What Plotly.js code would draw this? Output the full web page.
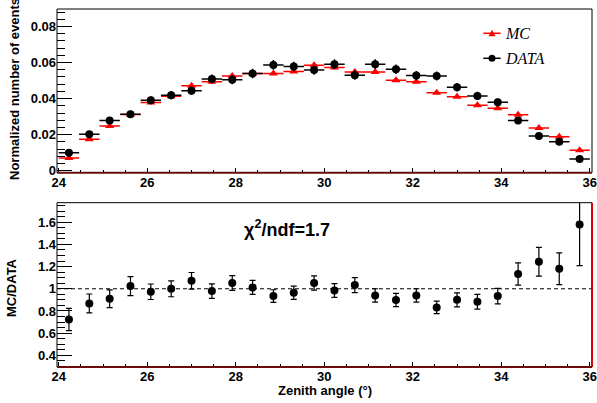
<!DOCTYPE html>
<html>
<head>
<meta charset="utf-8">
<script src="https://cdn.plot.ly/plotly-3.0.1.min.js"></script>
<style>html,body{margin:0;padding:0;background:#fff;}</style>
</head>
<body>
<div id="chart" style="width:597px;height:403px;"></div>
<script>
// ---- data ----
const binCenters = [24.23,24.69,25.15,25.62,26.08,26.54,27.00,27.46,27.92,28.38,28.85,29.31,29.77,30.23,30.69,31.15,31.62,32.08,32.54,33.00,33.46,33.92,34.38,34.85,35.31,35.77];
const binHalfWidth = 0.2308;
const mcValues = [0.0071,0.0174,0.0248,0.0312,0.0378,0.0413,0.0472,0.0494,0.0526,0.0539,0.0539,0.0550,0.0585,0.0572,0.0548,0.0548,0.0502,0.0493,0.0433,0.0411,0.0363,0.0347,0.0311,0.0237,0.0189,0.0113];
const dataValues = [0.0100,0.0202,0.0278,0.0313,0.0391,0.0419,0.0444,0.0509,0.0504,0.0539,0.0587,0.0578,0.0559,0.0591,0.0530,0.0591,0.0563,0.0528,0.0526,0.0463,0.0415,0.0380,0.0278,0.0193,0.0161,0.0065];
const dataErrors = [0.0012,0.0016,0.0019,0.0020,0.0022,0.0023,0.0024,0.0025,0.0025,0.0026,0.0027,0.0027,0.0026,0.0027,0.0026,0.0027,0.0026,0.0025,0.0025,0.0024,0.0023,0.0022,0.0019,0.0016,0.0015,0.0010];
const ratioValues = [0.723,0.868,0.910,1.024,0.973,1.000,1.072,0.979,1.052,1.012,0.934,0.964,1.052,0.985,1.033,0.940,0.898,0.940,0.832,0.900,0.883,0.934,1.133,1.244,1.181,1.579];
const ratioErrors = [0.100,0.085,0.080,0.085,0.070,0.072,0.075,0.065,0.067,0.063,0.057,0.060,0.065,0.062,0.068,0.060,0.060,0.060,0.057,0.063,0.067,0.070,0.100,0.130,0.143,0.370];
const xTickVals = [24,26,28,30,32,34,36];
const xTickText = ['24','26','28','30','32','34','36'];
const yTopTickVals = [0,0.02,0.04,0.06,0.08];
const yTopTickText = ['0','0.02','0.04','0.06','0.08'];
const yBotTickVals = [0.4,0.6,0.8,1,1.2,1.4,1.6];
const yBotTickText = ['0.4','0.6','0.8','1','1.2','1.4','1.6'];
const refLine = 1;
const chiText = 'χ<sup>2</sup>/ndf=1.7';

// ---- styles ----
const FONT = 'Liberation Sans, Arial, sans-serif';
const tickFont = {family: FONT, size: 13, color: '#000', weight: 'bold'};
const xRange = [23.96, 36.05];

function xAxis(anchor) {
  return {
    anchor: anchor, domain: [0, 1], range: xRange,
    tickmode: 'array', tickvals: xTickVals, ticktext: xTickText,
    ticks: 'inside', ticklen: 5, tickwidth: 1, tickcolor: '#000',
    minor: {tickmode: 'linear', tick0: 24, dtick: 0.5, ticks: 'inside', ticklen: 3, tickwidth: 1, tickcolor: '#000', showgrid: false},
    showgrid: false, zeroline: false, showline: false,
    ticklabeloverflow: 'allow',
    tickfont: tickFont
  };
}

const traces = [
  {
    x: binCenters, y: mcValues, xaxis: 'x', yaxis: 'y', type: 'scatter', mode: 'markers',
    marker: {symbol: 'triangle-up', size: 8, color: '#ff0000'},
    error_x: {type: 'constant', value: binHalfWidth, color: '#ff0000', thickness: 1.5, width: 0},
    hoverinfo: 'skip'
  },
  {
    x: binCenters, y: dataValues, xaxis: 'x', yaxis: 'y', type: 'scatter', mode: 'markers',
    marker: {symbol: 'circle', size: 8, color: '#000'},
    error_x: {type: 'constant', value: binHalfWidth, color: '#000', thickness: 1.5, width: 0},
    error_y: {type: 'data', array: dataErrors, color: '#000', thickness: 1.5, width: 0},
    hoverinfo: 'skip'
  },
  {
    x: binCenters, y: ratioValues, xaxis: 'x2', yaxis: 'y2', type: 'scatter', mode: 'markers',
    marker: {symbol: 'circle', size: 8, color: '#000'},
    error_y: {type: 'data', array: ratioErrors, color: '#000', thickness: 1.2, width: 3},
    hoverinfo: 'skip'
  }
];

function border(xr, yr, x0, y0, x1, y1, color, w) {
  return {type: 'line', xref: xr, yref: yr, x0: x0, y0: y0, x1: x1, y1: y1, line: {color: color, width: w}, layer: 'above'};
}

const legX = 0.8131, legYmc = 0.9321, legYdata = 0.8623;

const layout = {
  width: 597, height: 403,
  margin: {l: 57, r: 5, t: 9, b: 36, pad: 0},
  paper_bgcolor: '#fff', plot_bgcolor: '#fff',
  showlegend: false,
  xaxis: xAxis('y'),
  xaxis2: xAxis('y2'),
  yaxis: {
    anchor: 'x', domain: [0.5427, 1], range: [-0.0011, 0.0897],
    tickmode: 'array', tickvals: yTopTickVals, ticktext: yTopTickText,
    ticks: 'inside', ticklen: 15, tickwidth: 1, tickcolor: '#000',
    minor: {tickmode: 'linear', tick0: 0, dtick: 0.004, ticks: 'inside', ticklen: 8, tickwidth: 1, tickcolor: '#000', showgrid: false},
    showgrid: false, zeroline: false, showline: false, tickfont: tickFont
  },
  yaxis2: {
    anchor: 'x2', domain: [0, 0.459], range: [0.294, 1.777],
    tickmode: 'array', tickvals: yBotTickVals, ticktext: yBotTickText,
    ticks: 'inside', ticklen: 15, tickwidth: 1, tickcolor: '#000',
    minor: {tickmode: 'linear', tick0: 0, dtick: 0.05, ticks: 'inside', ticklen: 8, tickwidth: 1, tickcolor: '#000', showgrid: false},
    showgrid: false, zeroline: false, showline: false, tickfont: tickFont
  },
  shapes: [
    {type: 'line', xref: 'x2 domain', yref: 'y2', x0: 0, x1: 1, y0: refLine, y1: refLine, line: {color: '#000', width: 1, dash: '4px,3px'}, layer: 'below'},
    border('x domain', 'y domain', 0, 0, 0, 1, '#000', 1),
    border('x domain', 'y domain', 0, 1, 1, 1, '#000', 1),
    border('x domain', 'y domain', 1, 0, 1, 1, '#000', 1),
    border('x domain', 'y domain', 0, 0, 1, 0, '#6b0c0c', 2),
    border('x2 domain', 'y2 domain', 0, 0, 0, 1, '#000', 1),
    border('x2 domain', 'y2 domain', 0, 1, 1, 1, '#000', 1),
    border('x2 domain', 'y2 domain', 1, 0, 1, 1, '#e00000', 2),
    border('x2 domain', 'y2 domain', 0, 0, 1, 0, '#6b0c0c', 2),
    // legend keys
    {type: 'line', xref: 'paper', yref: 'paper', x0: 0.7968, x1: 0.8293, y0: legYmc, y1: legYmc, line: {color: '#ff0000', width: 1.5}},
    {type: 'path', xref: 'paper', yref: 'paper', xsizemode: 'pixel', ysizemode: 'pixel', xanchor: legX, yanchor: legYmc,
      path: 'M -3.5,-3 L 3.5,-3 L 0,3.5 Z', fillcolor: '#ff0000', line: {width: 0}},
    {type: 'line', xref: 'paper', yref: 'paper', x0: 0.7968, x1: 0.8293, y0: legYdata, y1: legYdata, line: {color: '#000', width: 1.5}},
    {type: 'circle', xref: 'paper', yref: 'paper', xsizemode: 'pixel', ysizemode: 'pixel', xanchor: legX, yanchor: legYdata,
      x0: -3.5, x1: 3.5, y0: -3.5, y1: 3.5, fillcolor: '#000', line: {width: 0}}
  ],
  annotations: [
    {text: 'MC', xref: 'paper', yref: 'paper', x: 0.8342, y: legYmc, xanchor: 'left', yanchor: 'middle', showarrow: false,
      font: {family: 'Liberation Serif, Times New Roman, serif', size: 16, style: 'italic', color: '#000'}},
    {text: 'DATA', xref: 'paper', yref: 'paper', x: 0.8342, y: legYdata, xanchor: 'left', yanchor: 'middle', showarrow: false,
      font: {family: 'Liberation Serif, Times New Roman, serif', size: 16, style: 'italic', color: '#000'}},
    {text: chiText, xref: 'paper', yref: 'paper', x: 0.43, y: 0.3855, xanchor: 'center', yanchor: 'middle', showarrow: false,
      font: {family: FONT, size: 18, weight: 'bold', color: '#000'}},
    {text: 'Normalized number of events', xref: 'paper', yref: 'paper', x: -0.0804, y: 0.7765, textangle: -90,
      xanchor: 'center', yanchor: 'middle', showarrow: false, font: {family: FONT, size: 13, weight: 'bold', color: '#000'}},
    {text: 'MC/DATA', xref: 'paper', yref: 'paper', x: -0.0841, y: 0.2207, textangle: -90,
      xanchor: 'center', yanchor: 'middle', showarrow: false, font: {family: FONT, size: 13, weight: 'bold', color: '#000'}},
    {text: 'Zenith angle (°)', xref: 'paper', yref: 'paper', x: 0.5004, y: -0.0662,
      xanchor: 'center', yanchor: 'middle', showarrow: false, font: {family: FONT, size: 13, weight: 'bold', color: '#000'}}
  ]
};

Plotly.newPlot('chart', traces, layout, {staticPlot: true, displayModeBar: false});
</script>
</body>
</html>
